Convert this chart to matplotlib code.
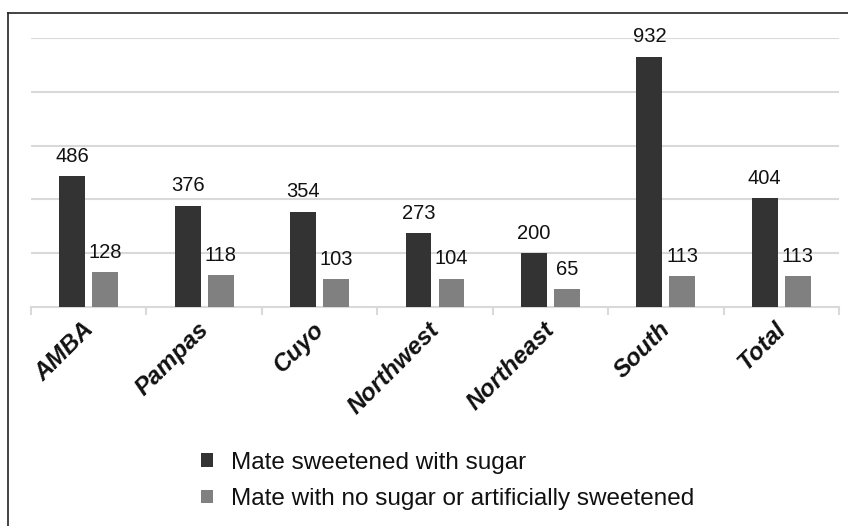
import matplotlib
matplotlib.use("Agg")
from matplotlib import pyplot as plt
from matplotlib.lines import Line2D
from matplotlib.transforms import ScaledTranslation
import numpy as np

plt.rcParams['font.family'] = ['Liberation Sans', 'DejaVu Sans']

regions = ['AMBA', 'Pampas', 'Cuyo', 'Northwest', 'Northeast', 'South', 'Total']
sugar = [486, 376, 354, 273, 200, 932, 404]
no_sugar = [128, 118, 103, 104, 65, 113, 113]
series_names = ['Mate sweetened with sugar',
                'Mate with no sugar or artificially sweetened']

dark = '#333333'
grey = '#808080'
light = '#d9d9d9'

fig = plt.figure(figsize=(8.48, 5.26), dpi=100)
ax = fig.add_axes([31 / 848, 1 - 306.7 / 526, 808 / 848, 268.4 / 526])

x = np.arange(len(regions))
w = 0.225
off = 0.143
b1 = ax.bar(x - off, sugar, w, color=dark, label=series_names[0], zorder=3)
b2 = ax.bar(x + off, no_sugar, w, color=grey, label=series_names[1], zorder=3)

# value labels over the bars
for bars, vals in [(b1, sugar), (b2, no_sugar)]:
    for rect, v in zip(bars, vals):
        ax.annotate(str(v), (rect.get_x() + rect.get_width() / 2, rect.get_height()),
                    xytext=(0, 7.5), textcoords='offset points',
                    ha='center', va='bottom', fontsize=14.5, color='#111111', zorder=4)

ax.set_xlim(-0.5, len(regions) - 0.5)
ax.set_ylim(0, 1000)
ax.set_yticks([200, 400, 600, 800, 1000])
ax.yaxis.grid(True, color=light, lw=1.5, zorder=0)
ax.tick_params(axis='y', length=0, labelleft=False)

for s in ['top', 'right', 'left']:
    ax.spines[s].set_visible(False)
ax.spines['bottom'].set_color(light)
ax.spines['bottom'].set_linewidth(1.5)

ax.set_xticks(x)
ax.set_xticklabels(regions, rotation=45, ha='right', rotation_mode='anchor',
                   fontsize=17.5, fontweight='bold', fontstyle='italic', color='#111111')
ax.tick_params(axis='x', which='major', length=0, pad=8)
shift = ScaledTranslation(-7 / 100, 0, fig.dpi_scale_trans)
for lbl in ax.get_xticklabels():
    lbl.set_transform(lbl.get_transform() + shift)
ax.set_xticks(np.arange(-0.5, len(regions)), minor=True)
ax.tick_params(axis='x', which='minor', length=6, width=1.5, color=light)

leg = fig.legend(loc='upper left', bbox_to_anchor=(201 / 848, 1 - 452 / 526),
                 frameon=False, fontsize=17.5, handlelength=0.5, handleheight=0.5,
                 handletextpad=0.75, labelspacing=0.58, borderpad=0, borderaxespad=0)
for t in leg.get_texts():
    t.set_color('#111111')

# frame lines on the left and top of the picture
fig.add_artist(Line2D([8.3 / 848, 8.3 / 848], [0, 1 - 13.3 / 526], color='#222222', lw=1.2))
fig.add_artist(Line2D([8.3 / 848, 1], [1 - 13.3 / 526, 1 - 13.3 / 526], color='#222222', lw=1.2))

plt.savefig('out.png', dpi=100)
